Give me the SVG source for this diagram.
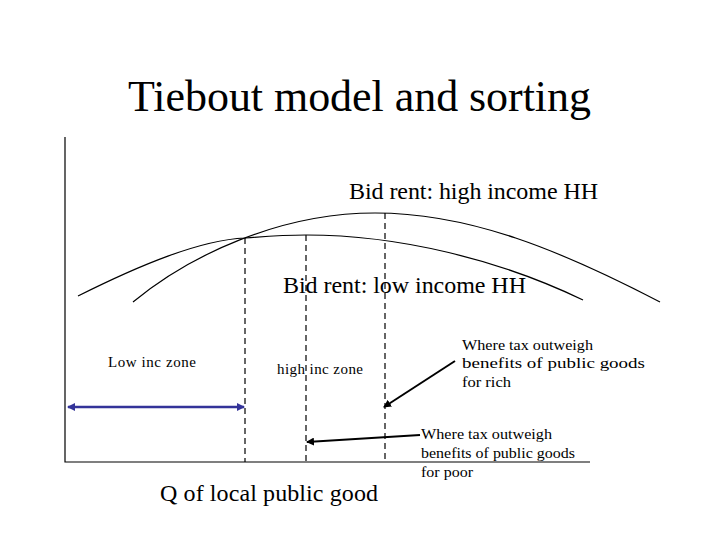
<svg xmlns="http://www.w3.org/2000/svg" width="720" height="540" viewBox="0 0 720 540">
<style>
text{font-family:"Liberation Serif",serif;fill:#000}
.c{fill:none;stroke:#000;stroke-width:1.2}
.d{stroke:#000;stroke-width:1.2;stroke-dasharray:6,4}
.s{font-size:15px}
.m{font-size:24px}
</style>
<defs>
<marker id="ah" markerWidth="8" markerHeight="8" refX="7" refY="4" orient="auto" markerUnits="userSpaceOnUse"><path d="M0,0L8,4L0,8z" fill="#000"/></marker>
<marker id="bh" markerWidth="8" markerHeight="8" refX="7" refY="4" orient="auto-start-reverse" markerUnits="userSpaceOnUse"><path d="M0,0L8,4L0,8z" fill="#333399"/></marker>
</defs>
<rect width="720" height="540" fill="#fff"/>
<text x="128" y="111" font-size="44" textLength="463">Tiebout model and sorting</text>
<g id="axes"><path class="c" d="M65,137V462H590"/></g>
<g id="curves">
<path class="c" d="M133,302C190,255 280,213 375,213C470,213 560,250 660,302"/>
<path class="c" d="M78,296C140,265 200,240 245,238C270,236 290,235 306,235C400,235 500,260 583,300"/>
</g>
<g id="connectors">
<line class="d" x1="245" y1="238" x2="245" y2="462" stroke-dasharray="4,3" stroke-width="0.8"/>
<line class="d" x1="306" y1="235" x2="306" y2="462"/>
<line class="d" x1="385" y1="213" x2="385" y2="462"/>
<line x1="68" y1="407" x2="244" y2="407" stroke="#333399" stroke-width="2.5" marker-start="url(#bh)" marker-end="url(#bh)"/>
<line x1="455" y1="361" x2="384" y2="407" stroke="#000" stroke-width="2" marker-end="url(#ah)"/>
<line x1="420" y1="435" x2="307" y2="442" stroke="#000" stroke-width="2" marker-end="url(#ah)"/>
</g>
<g id="labels">
<text x="349" y="199" class="m" textLength="249">Bid rent: high income HH</text>
<text x="283" y="293" class="m" textLength="243">Bid rent: low income HH</text>
<text x="108" y="367" class="s" textLength="88">Low inc zone</text>
<text x="277" y="374" class="s" textLength="86">high inc zone</text>
<text class="s"><tspan x="462" y="350" textLength="131" lengthAdjust="spacingAndGlyphs">Where tax outweigh</tspan><tspan x="462" y="368" textLength="183" lengthAdjust="spacingAndGlyphs">benefits of public goods</tspan><tspan x="462" y="387" textLength="49" lengthAdjust="spacingAndGlyphs">for rich</tspan></text>
<text class="s"><tspan x="421" y="439" textLength="131" lengthAdjust="spacingAndGlyphs">Where tax outweigh</tspan><tspan x="421" y="458" textLength="154" lengthAdjust="spacingAndGlyphs">benefits of public goods</tspan><tspan x="421" y="477" textLength="52" lengthAdjust="spacingAndGlyphs">for poor</tspan></text>
<text x="160" y="501" font-size="24" textLength="218">Q of local public good</text>
</g>
</svg>
